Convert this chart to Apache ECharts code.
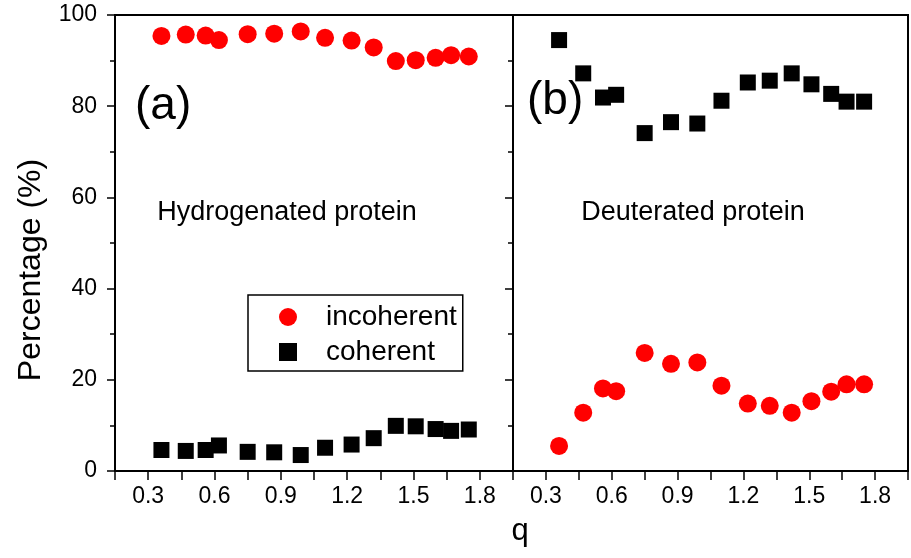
<!DOCTYPE html>
<html>
<head>
<meta charset="utf-8">
<script src="https://cdn.jsdelivr.net/npm/echarts@6/dist/echarts.min.js"></script>
<style>
  html, body { margin: 0; padding: 0; background: #fff; }
  #chart { width: 911px; height: 558px; }
</style>
</head>
<body>
<div id="chart"></div>
<script>
// q values (same for both panels)
var qValues = [0.36, 0.47, 0.56, 0.62, 0.75, 0.87, 0.99, 1.10, 1.22, 1.32, 1.42, 1.51, 1.60, 1.67, 1.75];
// (a) hydrogenated protein
var hIncoherent = [95.4, 95.7, 95.5, 94.5, 95.8, 95.9, 96.4, 95.0, 94.4, 92.9, 89.9, 90.1, 90.6, 91.2, 90.9];
var hCoherent = [4.6, 4.4, 4.6, 5.6, 4.2, 4.1, 3.5, 5.1, 5.8, 7.2, 9.9, 9.8, 9.2, 8.8, 9.1];
// (b) deuterated protein
var dIncoherent = [5.5, 12.8, 18.1, 17.5, 25.9, 23.5, 23.8, 18.7, 14.8, 14.3, 12.8, 15.3, 17.4, 19.0, 19.0];
var dCoherent = [94.5, 87.2, 81.9, 82.5, 74.1, 76.5, 76.2, 81.2, 85.2, 85.6, 87.2, 84.8, 82.7, 81.0, 81.0];
// tick labels
var xTickLabels = ['0.3', '0.6', '0.9', '1.2', '1.5', '1.8'];
var yTickLabels = ['0', '20', '40', '60', '80', '100'];

var FONT = '"Liberation Sans", Arial, sans-serif';

function pairs(ys) {
  return qValues.map(function (q, i) { return [q, ys[i]]; });
}

function xAxisFor(idx) {
  return {
    type: 'value', gridIndex: idx, min: 0.15, max: 1.95, interval: 0.15,
    axisLine: { show: true, onZero: false, lineStyle: { color: '#000', width: 2 } },
    axisTick: { show: true, inside: false, length: 9, lineStyle: { color: '#000', width: 1.5 } },
    splitLine: { show: false },
    axisLabel: {
      margin: 14, color: '#000', fontSize: 23, fontFamily: FONT,
      formatter: function (v) {
        var s = v.toFixed(1);
        return xTickLabels.indexOf(s) >= 0 && Math.abs(v * 10 - Math.round(v * 10)) < 1e-6 ? s : '';
      }
    }
  };
}

function yAxisFor(idx, labels) {
  return {
    type: 'value', gridIndex: idx, min: 0, max: 100, interval: 20,
    axisLine: { show: true, lineStyle: { color: '#000', width: 2 } },
    axisTick: { show: true, inside: false, length: 8, lineStyle: { color: '#000', width: 1.5 } },
    minorTick: { show: true, splitNumber: 2, length: 5, lineStyle: { color: '#000', width: 1.5 } },
    splitLine: { show: false },
    axisLabel: {
      show: labels, margin: 18, color: '#000', fontSize: 23, fontFamily: FONT,
      formatter: function (v) { return yTickLabels.indexOf(String(v)) >= 0 ? String(v) : ''; }
    }
  };
}

var chart = echarts.init(document.getElementById('chart'));

var option = {
  backgroundColor: '#fff',
  animation: false,
  grid: [
    { left: 115, top: 15, width: 398, height: 456, show: true, borderColor: '#000', borderWidth: 2, backgroundColor: 'transparent' },
    { left: 513, top: 15, width: 396, height: 456, show: true, borderColor: '#000', borderWidth: 2, backgroundColor: 'transparent' }
  ],
  xAxis: [xAxisFor(0), xAxisFor(1)],
  yAxis: [yAxisFor(0, true), yAxisFor(1, false)],
  legend: {
    orient: 'vertical', left: 248, top: 295,
    padding: [8, 6, 5, 31], itemGap: 7,
    itemWidth: 66, itemHeight: 18,
    symbolKeepAspect: true,
    borderColor: '#000', borderWidth: 1.5, backgroundColor: '#fff',
    textStyle: { color: '#000', fontSize: 28, fontFamily: FONT },
    data: [
      { name: 'incoherent', icon: 'circle' },
      { name: 'coherent', icon: 'path://M0,0H16V16H0Z', itemStyle: { color: '#000' } }
    ]
  },
  series: [
    { name: 'incoherent', type: 'scatter', xAxisIndex: 0, yAxisIndex: 0, symbol: 'circle', symbolSize: 18, itemStyle: { color: '#ff0000', opacity: 1 }, data: pairs(hIncoherent) },
    { name: 'coherent', type: 'scatter', xAxisIndex: 0, yAxisIndex: 0, symbol: 'rect', symbolSize: 16, itemStyle: { color: '#000', opacity: 1 }, data: pairs(hCoherent) },
    { name: 'incoherent', type: 'scatter', xAxisIndex: 1, yAxisIndex: 1, symbol: 'circle', symbolSize: 18, itemStyle: { color: '#ff0000', opacity: 1 }, data: pairs(dIncoherent) },
    { name: 'coherent', type: 'scatter', xAxisIndex: 1, yAxisIndex: 1, symbol: 'rect', symbolSize: 16, itemStyle: { color: '#000', opacity: 1 }, data: pairs(dCoherent) }
  ],
  graphic: [
    { type: 'text', left: 135, top: 83, style: { text: '(a)', fontSize: 46, fontFamily: FONT, fill: '#000' } },
    { type: 'text', left: 527, top: 78, style: { text: '(b)', fontSize: 46, fontFamily: FONT, fill: '#000' } },
    { type: 'text', x: 287, y: 213, style: { text: 'Hydrogenated protein', fontSize: 27, fontFamily: FONT, fill: '#000', align: 'center', verticalAlign: 'middle' } },
    { type: 'text', x: 693, y: 213, style: { text: 'Deuterated protein', fontSize: 27, fontFamily: FONT, fill: '#000', align: 'center', verticalAlign: 'middle' } },
    { type: 'text', x: 31, y: 270, rotation: Math.PI / 2, style: { text: 'Percentage (%)', fontSize: 32, fontFamily: FONT, fill: '#000', align: 'center', verticalAlign: 'middle' } },
    { type: 'text', x: 520, y: 531, style: { text: 'q', fontSize: 31, fontFamily: FONT, fill: '#000', align: 'center', verticalAlign: 'middle' } }
  ]
};

chart.setOption(option);
</script>
</body>
</html>
